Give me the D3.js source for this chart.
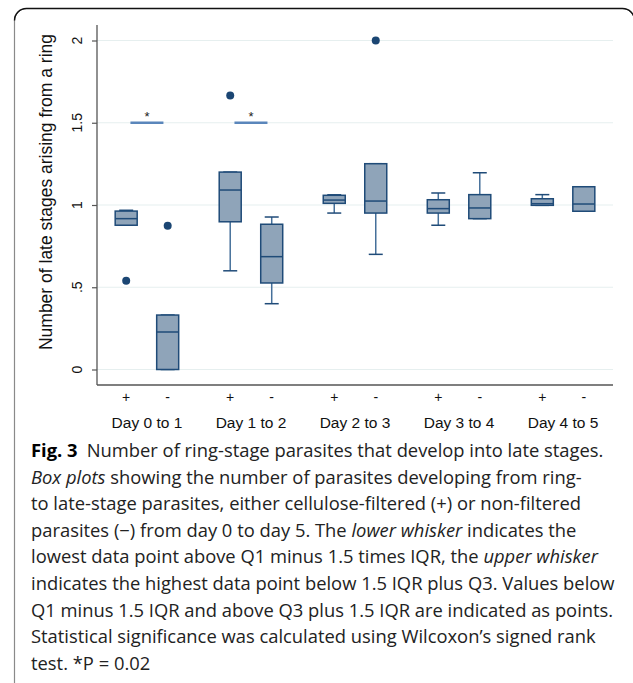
<!DOCTYPE html>
<html>
<head>
<meta charset="utf-8">
<script src="https://cdn.jsdelivr.net/npm/d3@7"></script>
<style>
  body { margin: 0; background: #fff; }
  svg { display: block; }
</style>
</head>
<body>
<div id="chart"></div>
<script>
// box plot of late stages per ring, days 0 to 5

var days = ['Day 0 to 1', 'Day 1 to 2', 'Day 2 to 3', 'Day 3 to 4', 'Day 4 to 5'];
var groups = ['+', '-'];

// one entry per box, order: day0 +, day0 -, day1 +, ...
var boxDay   = [0, 0, 1, 1, 2, 2, 3, 3, 4, 4];
var boxGroup = ['+', '-', '+', '-', '+', '-', '+', '-', '+', '-'];
var whiskLow  = [0.877, 0.000, 0.600, 0.400, 0.951, 0.700, 0.877, 0.917, 0.998, 0.962];
var q1        = [0.877, 0.000, 0.898, 0.526, 1.010, 0.951, 0.951, 0.917, 0.998, 0.962];
var median    = [0.917, 0.228, 1.091, 0.686, 1.030, 1.024, 0.978, 0.982, 1.008, 1.006];
var q3        = [0.963, 0.331, 1.200, 0.883, 1.059, 1.251, 1.032, 1.063, 1.038, 1.111];
var whiskHigh = [0.968, 0.331, 1.200, 0.927, 1.062, 1.251, 1.073, 1.196, 1.063, 1.111];

// outside points
var outlierBox   = [0, 1, 2, 5];
var outlierValue = [0.540, 0.874, 1.665, 2.000];

// significance brackets
var sigDays  = [0, 1];
var sigLevel = 1.5;
var sigLabel = '*';

var yTicks = [0, 0.5, 1, 1.5, 2];
var yTickLabels = ['0', '.5', '1', '1.5', '2'];
var yTitle = 'Number of late stages arising from a ring';

var caption = [
  [['b', 'Fig. 3'], ['n', '\u2002Number of ring-stage parasites that develop into late stages.']],
  [['i', 'Box plots'], ['n', ' showing the number of parasites developing from ring-']],
  [['n', 'to late-stage parasites, either cellulose-filtered (+) or non-filtered']],
  [['n', 'parasites (\u2212) from day 0 to day 5. The '], ['i', 'lower whisker'], ['n', ' indicates the']],
  [['n', 'lowest data point above Q1 minus 1.5 times IQR, the '], ['i', 'upper whisker']],
  [['n', 'indicates the highest data point below 1.5 IQR plus Q3. Values below']],
  [['n', 'Q1 minus 1.5 IQR and above Q3 plus 1.5 IQR are indicated as points.']],
  [['n', 'Statistical significance was calculated using Wilcoxon\u2019s signed rank']],
  [['n', 'test. *P = 0.02']]
];

var svgWidth = 633;
var svgHeight = 683;

var plot = { left: 97, right: 613, top: 25, bottom: 385 };

var boxColor = '#8fa4b9';
var lineColor = '#1f4b78';
var whiskColor = '#46709a';

var svg = d3.select('#chart')
  .append('svg')
  .attr('width', svgWidth)
  .attr('height', svgHeight);

// frame round the figure
svg.append('rect')
  .attr('x', 14.5)
  .attr('y', 8.5)
  .attr('width', 620)
  .attr('height', 686)
  .attr('rx', 12)
  .attr('fill', 'none')
  .attr('stroke', '#8a8a8a')
  .attr('stroke-width', 1.2);

svg.append('path')
  .attr('d', 'M14.5,20.5 A12,12 0 0 1 26.5,8.5 L622.5,8.5 A12,12 0 0 1 634.5,20.5')
  .attr('fill', 'none')
  .attr('stroke', '#111')
  .attr('stroke-width', 1.4);

// scales
var x = d3.scalePoint()
  .domain(days)
  .range([plot.left, plot.right])
  .padding(0.48);

var xInner = d3.scalePoint()
  .domain(groups)
  .range([-20.75, 20.75]);

var y = d3.scaleLinear()
  .domain([-0.0942, 2.0942])
  .range([plot.bottom, plot.top]);

var boxW = 22;
var capW = 14;

function cx(i) {
  return x(days[boxDay[i]]) + xInner(boxGroup[i]);
}

// grid lines
svg.append('g')
  .selectAll('line')
  .data(yTicks)
  .enter()
  .append('line')
  .attr('x1', plot.left)
  .attr('x2', plot.right)
  .attr('y1', d => y(d))
  .attr('y2', d => y(d))
  .attr('stroke', '#e6efef')
  .attr('stroke-width', 1.2);

// y axis
var leftAxis = d3.axisLeft(y)
  .tickValues(yTicks)
  .tickSize(5)
  .tickFormat('');

var yAxis = svg.append('g')
  .attr('transform', `translate(${plot.left}, 0)`)
  .call(leftAxis);
yAxis.select('.domain').attr('d', `M-5,${plot.top}H0V${plot.bottom}`).attr('stroke', '#555').attr('stroke-width', 1.3);
yAxis.select('.domain').attr('d', `M0,${plot.top}V${plot.bottom}`);
yAxis.selectAll('.tick line').attr('stroke', '#555').attr('stroke-width', 1.2);

svg.append('g')
  .selectAll('text')
  .data(yTicks)
  .enter()
  .append('text')
  .attr('transform', (d, i) => `translate(82, ${y(d)}) rotate(-90)`)
  .attr('text-anchor', 'middle')
  .attr('font-family', 'Liberation Sans, Arial, sans-serif')
  .attr('font-size', 14)
  .attr('fill', '#111')
  .text((d, i) => yTickLabels[i]);

svg.append('text')
  .attr('transform', 'translate(51.5, 192) rotate(-90)')
  .attr('text-anchor', 'middle')
  .attr('font-family', 'Liberation Sans, Arial, sans-serif')
  .attr('font-size', 17.5)
  .attr('fill', '#111')
  .text(yTitle);

// x axis line
svg.append('line')
  .attr('x1', plot.left)
  .attr('x2', plot.right)
  .attr('y1', plot.bottom)
  .attr('y2', plot.bottom)
  .attr('stroke', '#555')
  .attr('stroke-width', 1.3);

// group labels (+ / -) and day labels
var dayGroup = svg.append('g')
  .selectAll('g')
  .data(days)
  .enter()
  .append('g')
  .attr('transform', d => `translate(${x(d)}, 0)`);

dayGroup.selectAll('text.grp')
  .data(groups)
  .enter()
  .append('text')
  .attr('class', 'grp')
  .attr('x', d => xInner(d))
  .attr('y', 402)
  .attr('text-anchor', 'middle')
  .attr('font-family', 'Liberation Sans, Arial, sans-serif')
  .attr('font-size', 14)
  .attr('fill', '#111')
  .text(d => d);

dayGroup.append('text')
  .attr('x', 0)
  .attr('y', 428)
  .attr('text-anchor', 'middle')
  .attr('font-family', 'Liberation Sans, Arial, sans-serif')
  .attr('font-size', 15.5)
  .attr('fill', '#111')
  .text(d => d);

// boxes
var idx = d3.range(boxDay.length);

var boxes = svg.append('g')
  .selectAll('g')
  .data(idx)
  .enter()
  .append('g');

// whiskers
boxes.append('line')
  .attr('x1', cx).attr('x2', cx)
  .attr('y1', i => y(q3[i])).attr('y2', i => y(whiskHigh[i]))
  .attr('stroke', whiskColor).attr('stroke-width', 1.5);
boxes.append('line')
  .attr('x1', cx).attr('x2', cx)
  .attr('y1', i => y(q1[i])).attr('y2', i => y(whiskLow[i]))
  .attr('stroke', whiskColor).attr('stroke-width', 1.5);
boxes.append('line')
  .attr('x1', i => cx(i) - capW / 2).attr('x2', i => cx(i) + capW / 2)
  .attr('y1', i => y(whiskHigh[i])).attr('y2', i => y(whiskHigh[i]))
  .attr('stroke', lineColor).attr('stroke-width', 1.5);
boxes.append('line')
  .attr('x1', i => cx(i) - capW / 2).attr('x2', i => cx(i) + capW / 2)
  .attr('y1', i => y(whiskLow[i])).attr('y2', i => y(whiskLow[i]))
  .attr('stroke', lineColor).attr('stroke-width', 1.5);

boxes.append('rect')
  .attr('x', i => cx(i) - boxW / 2)
  .attr('width', boxW)
  .attr('y', i => y(q3[i]))
  .attr('height', i => y(q1[i]) - y(q3[i]))
  .attr('fill', boxColor)
  .attr('stroke', lineColor)
  .attr('stroke-width', 1.5);

boxes.append('line')
  .attr('x1', i => cx(i) - boxW / 2).attr('x2', i => cx(i) + boxW / 2)
  .attr('y1', i => y(median[i])).attr('y2', i => y(median[i]))
  .attr('stroke', lineColor).attr('stroke-width', 1.5);

// outliers
svg.append('g')
  .selectAll('circle')
  .data(outlierBox)
  .enter()
  .append('circle')
  .attr('cx', d => cx(d))
  .attr('cy', (d, i) => y(outlierValue[i]))
  .attr('r', 4)
  .attr('fill', '#1b4673');

// significance bars
var sig = svg.append('g')
  .selectAll('g')
  .data(sigDays)
  .enter()
  .append('g')
  .attr('transform', d => `translate(${x(days[d])}, ${y(sigLevel)})`);

sig.append('line')
  .attr('x1', -16.5).attr('x2', 16.5)
  .attr('y1', 0).attr('y2', 0)
  .attr('stroke', '#5a86bb')
  .attr('stroke-width', 2.4);

sig.append('text')
  .attr('x', 0)
  .attr('y', -2)
  .attr('text-anchor', 'middle')
  .attr('font-family', 'Liberation Sans, Arial, sans-serif')
  .attr('font-size', 13)
  .attr('fill', '#222')
  .text(sigLabel);

// caption
var capLeft = 31;
var capRight = 603;
var capTop = 457;
var capStep = 26.6;

var capText = svg.append('g')
  .selectAll('text')
  .data(caption)
  .enter()
  .append('text')
  .attr('x', 0)
  .attr('y', 0)
  .attr('font-family', 'Open Sans, Noto Sans, sans-serif')
  .attr('font-size', 17.8)
  .attr('fill', '#222');

capText.selectAll('tspan')
  .data(d => d)
  .enter()
  .append('tspan')
  .attr('font-weight', d => d[0] == 'b' ? 'bold' : null)
  .attr('font-style', d => d[0] == 'i' ? 'italic' : null)
  .attr('fill', d => d[0] == 'b' ? '#000' : null)
  .text(d => d[1]);

// squeeze the wide font to the narrow look of the original
var firstW = capText.node().getComputedTextLength();
var squeeze = (capRight - capLeft) / firstW;

capText.attr('transform', (d, i) => `translate(${capLeft}, ${capTop + i * capStep}) scale(${squeeze}, 1)`);
</script>
</body>
</html>
